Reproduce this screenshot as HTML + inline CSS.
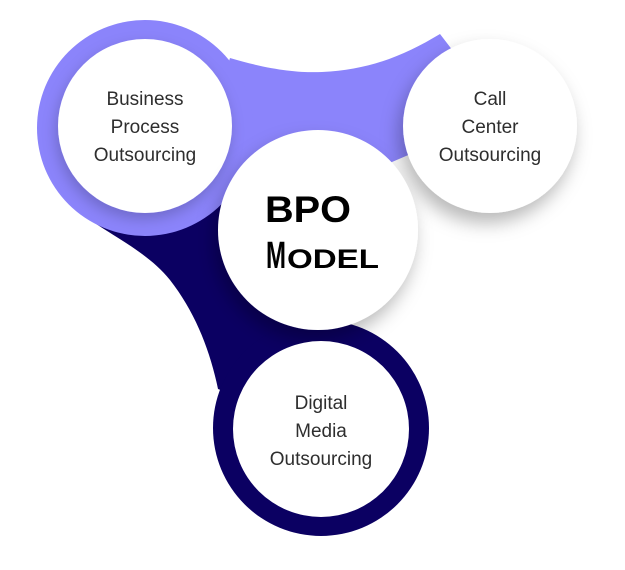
<!DOCTYPE html>
<html><head><meta charset="utf-8"><style>
html,body{margin:0;padding:0;background:#fff;width:625px;height:570px;overflow:hidden}
.t{font-family:"Liberation Sans",sans-serif;font-size:19px;fill:#2e2e2e;text-anchor:middle}
</style></head><body>
<svg width="625" height="570" viewBox="0 0 625 570" xmlns="http://www.w3.org/2000/svg">
<defs>
<filter id="sh" x="-40%" y="-40%" width="180%" height="180%">
<feDropShadow dx="-4" dy="10" stdDeviation="9" flood-color="#000" flood-opacity="0.28"/>
</filter>
<filter id="sh2" x="-40%" y="-40%" width="180%" height="180%">
<feDropShadow dx="-2" dy="6" stdDeviation="7" flood-color="#000" flood-opacity="0.2"/>
</filter>
</defs>
<!-- navy band -->
<path d="M87,218 C120,240 150,255 170,280 C195,312 210,350 218,389 L321,429 L345,322 L230,200 Z" fill="#0b0062"/>
<circle cx="321" cy="428" r="108" fill="#0b0062"/>
<!-- purple band -->
<path d="M230,58 C270,70 300,73 322,72 C370,70 405,55 440,34 L460,60 L420,150 L385,165 L300,200 L200,150 Z" fill="#8b84fb"/>
<circle cx="145" cy="128" r="108" fill="#8b84fb"/>
<!-- white circles -->
<circle cx="145" cy="126" r="87" fill="#fff" filter="url(#sh2)"/>
<circle cx="490" cy="126" r="87" fill="#fff" filter="url(#sh)"/>
<circle cx="318" cy="230" r="100" fill="#fff" filter="url(#sh)"/>
<circle cx="321" cy="429" r="88" fill="#fff"/>
<!-- labels -->
<text class="t" x="145" y="105">Business</text>
<text class="t" x="145" y="133">Process</text>
<text class="t" x="145" y="161">Outsourcing</text>
<text class="t" x="490" y="105">Call</text>
<text class="t" x="490" y="133">Center</text>
<text class="t" x="490" y="161">Outsourcing</text>
<text class="t" x="321" y="409">Digital</text>
<text class="t" x="321" y="437">Media</text>
<text class="t" x="321" y="465">Outsourcing</text>
<text x="265" y="222" font-family="Liberation Sans,sans-serif" font-weight="bold" font-size="37" fill="#000" textLength="86" lengthAdjust="spacingAndGlyphs">BPO</text>
<text x="266" y="268" font-family="Liberation Sans,sans-serif" font-weight="bold" font-size="38" fill="#000" textLength="20" lengthAdjust="spacingAndGlyphs">M</text>
<text x="287" y="268" font-family="Liberation Sans,sans-serif" font-weight="bold" font-size="27" fill="#000" textLength="92" lengthAdjust="spacingAndGlyphs">ODEL</text>
</svg>
</body></html>
